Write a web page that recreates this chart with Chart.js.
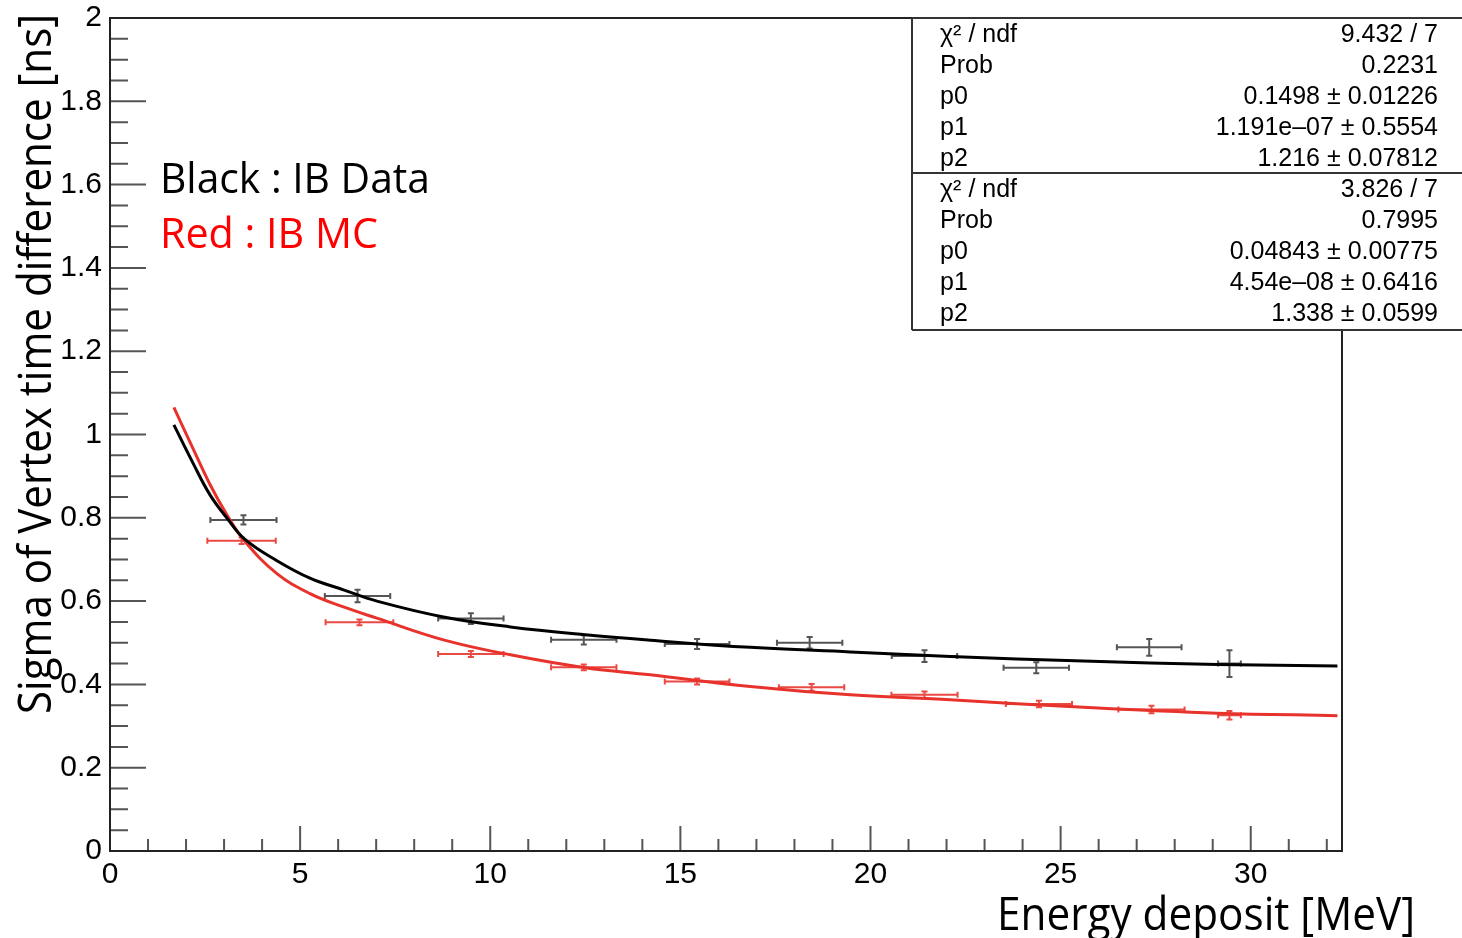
<!DOCTYPE html>
<html>
<head>
<meta charset="utf-8">
<script src="https://cdn.jsdelivr.net/npm/chart.js@4.4.0/dist/chart.umd.min.js"></script>
<style>
body { margin: 0; background: #fff; }
canvas { display: block; }
</style>
</head>
<body>
<canvas id="canvas" width="1462" height="938"></canvas>
<script>
// fit curves
var fitX     = [1.68, 2.19, 2.63, 3.07, 3.55, 4.39, 5.26, 6.14, 7.02, 8.77, 10.53, 12.5, 14.21, 16.84, 19.47, 22.1, 25.6, 29.12, 32.28];
var fitBlack = [1.023, 0.930, 0.855, 0.800, 0.748, 0.697, 0.655, 0.627, 0.600, 0.562, 0.538, 0.519, 0.506, 0.489, 0.478, 0.467, 0.456, 0.448, 0.444];
var fitRed   = [1.065, 0.965, 0.880, 0.808, 0.743, 0.666, 0.618, 0.586, 0.559, 0.507, 0.471, 0.440, 0.423, 0.395, 0.375, 0.363, 0.345, 0.331, 0.325];

// measured points (IB data = black, IB MC = red)
var dataX    = [3.51, 6.51, 9.49, 12.46, 15.44, 18.40, 21.42, 24.36, 27.33, 29.44];
var dataY    = [0.795, 0.612, 0.558, 0.507, 0.497, 0.500, 0.468, 0.440, 0.489, 0.450];
var dataXErr = [0.87, 0.86, 0.86, 0.86, 0.85, 0.86, 0.86, 0.86, 0.85, 0.30];
var dataYErr = [0.011, 0.015, 0.013, 0.011, 0.012, 0.014, 0.014, 0.013, 0.020, 0.032];

var mcX    = [3.46, 6.56, 9.49, 12.46, 15.44, 18.45, 21.42, 24.43, 27.39, 29.44];
var mcY    = [0.745, 0.549, 0.473, 0.441, 0.407, 0.393, 0.375, 0.353, 0.340, 0.326];
var mcXErr = [0.90, 0.89, 0.86, 0.86, 0.85, 0.86, 0.87, 0.87, 0.87, 0.30];
var mcYErr = [0.008, 0.007, 0.007, 0.007, 0.007, 0.008, 0.008, 0.008, 0.009, 0.010];

var xTicks = [0, 5, 10, 15, 20, 25, 30];
var yTicks = [0, 0.2, 0.4, 0.6, 0.8, 1, 1.2, 1.4, 1.6, 1.8, 2];

var statLabels = ['\u03c7\u00b2 / ndf', 'Prob', 'p0', 'p1', 'p2'];
var statsBlack = ['9.432 / 7', '0.2231', '0.1498 \u00b1 0.01226', '1.191e\u201307 \u00b1 0.5554', '1.216 \u00b1 0.07812'];
var statsRed   = ['3.826 / 7', '0.7995', '0.04843 \u00b1 0.00775', '4.54e\u201308 \u00b1 0.6416', '1.338 \u00b1 0.0599'];

function pts(xs, ys) {
    var out = [];
    for (var i = 0; i < xs.length; i++) out.push({x: xs[i], y: ys[i]});
    return out;
}

// text squeezed to a given width (Calibri-like look)
function fitText(ctx, text, x, y, w, font, color) {
    ctx.save();
    ctx.font = font;
    ctx.fillStyle = color;
    ctx.textAlign = 'left';
    ctx.textBaseline = 'alphabetic';
    var m = ctx.measureText(text).width;
    ctx.translate(x, y);
    ctx.scale(w / m, 1);
    ctx.fillText(text, 0, 0);
    ctx.restore();
}

var errorBars = {
    id: 'errorBars',
    beforeDatasetsDraw: function(chart) {
        var ctx = chart.ctx;
        var xs = chart.scales.x, ys = chart.scales.y;
        function draw(X, Y, XE, YE, color) {
            ctx.save();
            ctx.strokeStyle = color;
            ctx.lineWidth = 2;
            for (var i = 0; i < X.length; i++) {
                var px = xs.getPixelForValue(X[i]);
                var py = ys.getPixelForValue(Y[i]);
                var x0 = xs.getPixelForValue(X[i] - XE[i]);
                var x1 = xs.getPixelForValue(X[i] + XE[i]);
                var y0 = ys.getPixelForValue(Y[i] - YE[i]);
                var y1 = ys.getPixelForValue(Y[i] + YE[i]);
                ctx.beginPath();
                ctx.moveTo(x0, py); ctx.lineTo(x1, py);
                ctx.moveTo(x0, py - 3); ctx.lineTo(x0, py + 3);
                ctx.moveTo(x1, py - 3); ctx.lineTo(x1, py + 3);
                ctx.moveTo(px, y0); ctx.lineTo(px, y1);
                ctx.moveTo(px - 3, y0); ctx.lineTo(px + 3, y0);
                ctx.moveTo(px - 3, y1); ctx.lineTo(px + 3, y1);
                ctx.stroke();
            }
            ctx.restore();
        }
        draw(dataX, dataY, dataXErr, dataYErr, '#555555');
        draw(mcX, mcY, mcXErr, mcYErr, '#ea4a44');
    }
};

var decorations = {
    id: 'decorations',
    afterDraw: function(chart) {
        var ctx = chart.ctx;
        var a = chart.chartArea;
        var xs = chart.scales.x, ys = chart.scales.y;

        // inner ticks
        ctx.save();
        ctx.strokeStyle = '#555555';
        ctx.lineWidth = 2;
        ctx.beginPath();
        for (var v = 0; v <= 32; v++) {
            var px = xs.getPixelForValue(v);
            var len = (v % 5 === 0) ? 25 : 12;
            ctx.moveTo(px, a.bottom); ctx.lineTo(px, a.bottom - len);
        }
        for (var k = 0; k <= 40; k++) {
            var py = ys.getPixelForValue(k * 0.05);
            var l = (k % 4 === 0) ? 36 : 18;
            ctx.moveTo(a.left, py); ctx.lineTo(a.left + l, py);
        }
        ctx.stroke();
        ctx.restore();

        // frame
        ctx.save();
        ctx.strokeStyle = '#222222';
        ctx.lineWidth = 2;
        ctx.strokeRect(a.left, a.top, a.right - a.left, a.bottom - a.top);
        ctx.restore();

        // stats boxes
        ctx.save();
        ctx.fillStyle = '#ffffff';
        ctx.fillRect(912, a.top, 560, 312);
        ctx.strokeStyle = '#333333';
        ctx.lineWidth = 2;
        ctx.beginPath();
        ctx.moveTo(912, a.top); ctx.lineTo(1462, a.top);
        ctx.moveTo(912, a.top); ctx.lineTo(912, 330);
        ctx.moveTo(912, 173); ctx.lineTo(1462, 173);
        ctx.moveTo(912, 330); ctx.lineTo(1462, 330);
        ctx.stroke();
        ctx.font = '25px "Liberation Sans", Arial, sans-serif';
        ctx.fillStyle = '#000000';
        ctx.textBaseline = 'alphabetic';
        for (var i = 0; i < statLabels.length; i++) {
            ctx.textAlign = 'left';
            ctx.fillText(statLabels[i], 940, 42 + i * 31);
            ctx.fillText(statLabels[i], 940, 197 + i * 31);
            ctx.textAlign = 'right';
            ctx.fillText(statsBlack[i], 1438, 42 + i * 31);
            ctx.fillText(statsRed[i], 1438, 197 + i * 31);
        }
        ctx.restore();

        // labels
        var titleFont = '46px "Open Sans", sans-serif';
        fitText(ctx, 'Black : IB Data', 160, 193, 270, '42px "Open Sans", sans-serif', '#000000');
        fitText(ctx, 'Red : IB MC', 160, 248, 218, '42px "Open Sans", sans-serif', '#ff0000');
        fitText(ctx, 'Energy deposit [MeV]', 997, 930, 418, titleFont, '#000000');

        ctx.save();
        ctx.translate(51, 714);
        ctx.rotate(-Math.PI / 2);
        fitText(ctx, 'Sigma of Vertex time difference [ns]', 0, 0, 700, titleFont, '#000000');
        ctx.restore();
    }
};

var config = {
    type: 'line',
    data: {
        datasets: [{
            label: 'IB Data fit',
            data: pts(fitX, fitBlack),
            borderColor: '#000000',
            borderWidth: 3,
            pointRadius: 0,
            fill: false,
            tension: 0.4
        }, {
            label: 'IB MC fit',
            data: pts(fitX, fitRed),
            borderColor: '#e8322c',
            borderWidth: 3,
            pointRadius: 0,
            fill: false,
            tension: 0.4
        }]
    },
    options: {
        responsive: false,
        animation: false,
        layout: {
            padding: {top: 18, right: 120, left: 0, bottom: 0}
        },
        plugins: {
            legend: {display: false},
            tooltip: {enabled: false}
        },
        scales: {
            x: {
                type: 'linear',
                min: 0,
                max: 32.4,
                grid: {display: false, drawTicks: false},
                border: {display: false},
                afterBuildTicks: function(scale) {
                    scale.ticks = xTicks.map(function(v) { return {value: v}; });
                },
                afterFit: function(scale) {
                    scale.height = 87;
                    scale.paddingLeft = 0;
                    scale.paddingRight = 0;
                },
                ticks: {
                    autoSkip: false,
                    maxRotation: 0,
                    padding: 6,
                    color: '#000000',
                    font: {family: '"Liberation Sans", Arial, sans-serif', size: 30},
                    callback: function(v) { return String(v); }
                }
            },
            y: {
                type: 'linear',
                min: 0,
                max: 2,
                grid: {display: false, drawTicks: false},
                border: {display: false},
                afterBuildTicks: function(scale) {
                    scale.ticks = yTicks.map(function(v) { return {value: v}; });
                },
                afterFit: function(scale) {
                    scale.width = 110;
                    scale.paddingTop = 0;
                    scale.paddingBottom = 0;
                },
                ticks: {
                    autoSkip: false,
                    padding: 8,
                    color: '#000000',
                    font: {family: '"Liberation Sans", Arial, sans-serif', size: 30},
                    callback: function(v) { return String(Math.round(v * 10) / 10); }
                }
            }
        }
    },
    plugins: [errorBars, decorations]
};

window.onload = function() {
    var ctx = document.getElementById('canvas').getContext('2d');
    window.myLine = new Chart(ctx, config);
};
</script>
</body>
</html>
